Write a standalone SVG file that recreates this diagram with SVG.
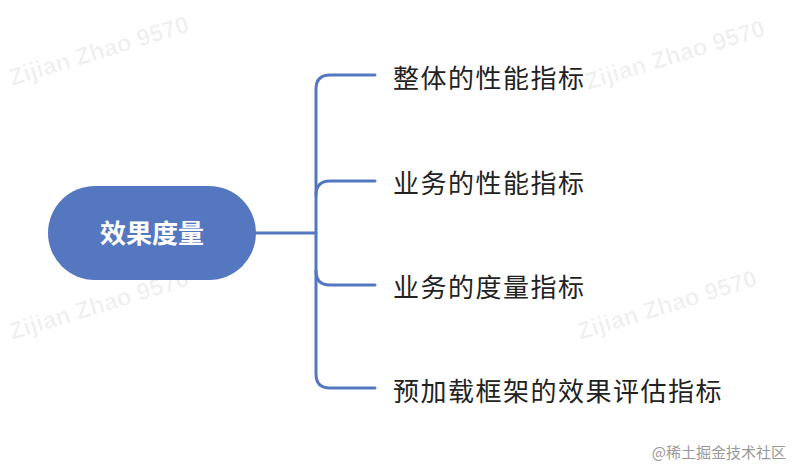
<svg xmlns="http://www.w3.org/2000/svg" width="792" height="468" viewBox="0 0 792 468">
<style>
.wm{font-family:"Liberation Sans",Arial,sans-serif;font-size:24px;font-weight:bold;fill:#000;fill-opacity:0.06}
.lbl{font-family:"Noto Sans CJK SC",sans-serif;font-size:26px;letter-spacing:1.5px;fill:#222}
.c{fill:none;stroke:#5577c0;stroke-width:3;stroke-linecap:round}
</style>
<rect width="792" height="468" fill="#fff"/>
<g id="watermarks">
<text class="wm" transform="translate(12,86) rotate(-17)">Zijian Zhao 9570</text>
<text class="wm" transform="translate(588,90) rotate(-17)">Zijian Zhao 9570</text>
<text class="wm" transform="translate(12,340) rotate(-17)">Zijian Zhao 9570</text>
<text class="wm" transform="translate(580,340) rotate(-17)">Zijian Zhao 9570</text>
</g>
<g id="connectors">
<path class="c" d="M256 233 H316"/>
<path class="c" d="M375 75 H330 Q316 75 316 89 V374 Q316 388 330 388 H375"/>
<path class="c" d="M375 181 H330 Q316 181 316 195"/>
<path class="c" d="M375 285 H330 Q316 285 316 271"/>
</g>
<g id="root">
<rect x="48" y="186" width="208" height="94" rx="47" fill="#5577c0"/>
<text x="152" y="243" text-anchor="middle" font-family="Noto Sans CJK SC,sans-serif" font-size="26" font-weight="bold" fill="#fff">效果度量</text>
</g>
<g id="n1"><text class="lbl" x="393" y="88">整体的性能指标</text></g>
<g id="n2"><text class="lbl" x="393" y="193">业务的性能指标</text></g>
<g id="n3"><text class="lbl" x="393" y="297">业务的度量指标</text></g>
<g id="n4"><text class="lbl" x="393" y="401">预加载框架的效果评估指标</text></g>
<text x="786" y="458" text-anchor="end" font-family="Noto Sans CJK SC,sans-serif" font-size="15" fill="#999">@稀土掘金技术社区</text>
</svg>
